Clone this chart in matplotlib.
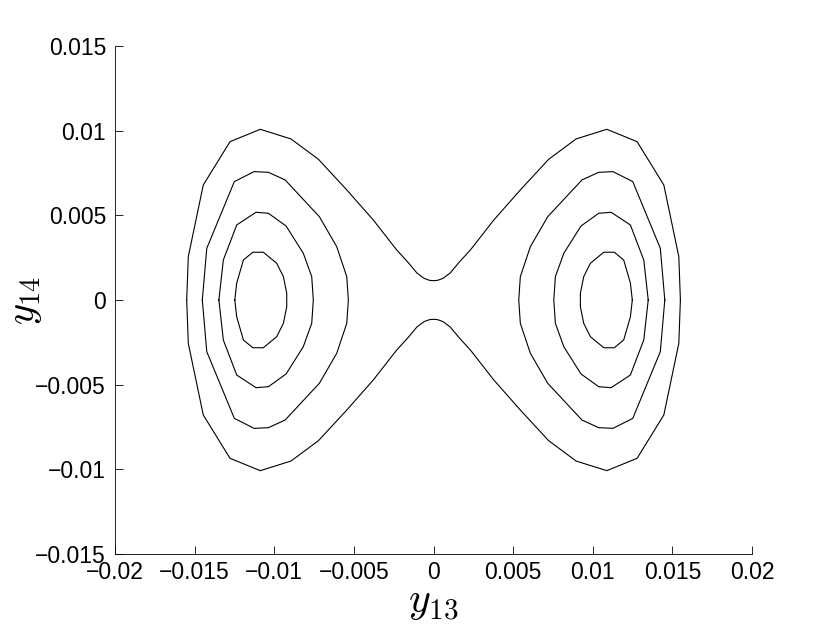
import numpy as np
import matplotlib.pyplot as plt

plt.rcParams['mathtext.fontset'] = 'cm'

''' Data (upper half of each curve, read off the left lobe; chart is symmetric) '''
# innermost ring
ring1_x = [-0.01248, -0.01236, -0.01194, -0.01135, -0.01069, -0.00985, -0.00943, -0.00922, -0.00922]
ring1_y = [0.0, 0.00100, 0.00236, 0.00282, 0.00282, 0.00217, 0.00138, 0.00040, 0.0]

# second ring
ring2_x = [-0.01348, -0.01320, -0.01236, -0.01115, -0.01037, -0.00926, -0.00818, -0.00765, -0.00755]
ring2_y = [0.0, 0.00236, 0.00443, 0.00518, 0.00512, 0.00437, 0.00276, 0.00138, 0.0]

# third ring
ring3_x = [-0.01452, -0.01424, -0.01251, -0.01127, -0.01037, -0.00932, -0.00717, -0.00608, -0.00545, -0.00535]
ring3_y = [0.0, 0.00305, 0.00699, 0.00758, 0.00754, 0.00709, 0.00492, 0.00315, 0.00138, 0.0]

# outer curve round both lobes (left half, top)
outer_x = [-0.01550, -0.01540, -0.01446, -0.01278, -0.01088, -0.00895, -0.00723, -0.00545,
           -0.00378, -0.00231, -0.00160, -0.00105, -0.00060, -0.00025, 0.0]
outer_y = [0.0, 0.00256, 0.00679, 0.00935, 0.01008, 0.00951, 0.00831, 0.00650,
           0.00472, 0.00295, 0.00222, 0.00160, 0.00128, 0.00116, 0.00114]

x_ticks = [-0.02, -0.015, -0.01, -0.005, 0, 0.005, 0.01, 0.015, 0.02]
x_tick_labels = ['\u22120.02', '\u22120.015', '\u22120.01', '\u22120.005', '0',
                 '0.005', '0.01', '0.015', '0.02']
y_ticks = [-0.015, -0.01, -0.005, 0, 0.005, 0.01, 0.015]
y_tick_labels = ['\u22120.015', '\u22120.01', '\u22120.005', '0', '0.005', '0.01', '0.015']


def closed_ring(hx, hy):
    # upper half + mirrored lower half
    hx = np.array(hx)
    hy = np.array(hy)
    xs = np.concatenate([hx, hx[::-1]])
    ys = np.concatenate([hy, -hy[::-1]])
    return xs, ys


''' Graphing '''
fig = plt.figure(figsize=(8.3, 6.24), dpi=100)
ax = fig.add_axes([0.1386, 0.1122, 0.7675, 0.8141])

for hx, hy in [(ring1_x, ring1_y), (ring2_x, ring2_y), (ring3_x, ring3_y)]:
    xs, ys = closed_ring(hx, hy)
    ax.plot(xs, ys, color='black', lw=0.8)
    ax.plot(-xs, ys, color='black', lw=0.8)

# outer curve: left half + mirrored right half, then bottom
ox = np.array(outer_x)
oy = np.array(outer_y)
top_x = np.concatenate([ox, -ox[::-1][1:]])
top_y = np.concatenate([oy, oy[::-1][1:]])
ax.plot(top_x, top_y, color='black', lw=0.8)
ax.plot(top_x, -top_y, color='black', lw=0.8)

ax.set_xlim(-0.02, 0.02)
ax.set_ylim(-0.015, 0.015)
ax.set_xticks(x_ticks)
ax.set_xticklabels(x_tick_labels, family='Liberation Sans', fontsize=16.5)
ax.set_yticks(y_ticks)
ax.set_yticklabels(y_tick_labels, family='Liberation Sans', fontsize=16.5)
ax.tick_params(axis='x', direction='in', length=6, width=0.6, pad=5)
ax.tick_params(axis='y', direction='in', length=6, width=0.6, pad=6.5)
ax.spines['top'].set_visible(False)
ax.spines['right'].set_visible(False)
for s in ['left', 'bottom']:
    ax.spines[s].set_linewidth(0.6)

ax.set_xlabel('$y_{13}$', fontsize=30, labelpad=-3)
ax.set_ylabel('$y_{14}$', fontsize=29)
ax.yaxis.set_label_coords(-0.112, 0.5)

plt.savefig('out.png', dpi=100)
